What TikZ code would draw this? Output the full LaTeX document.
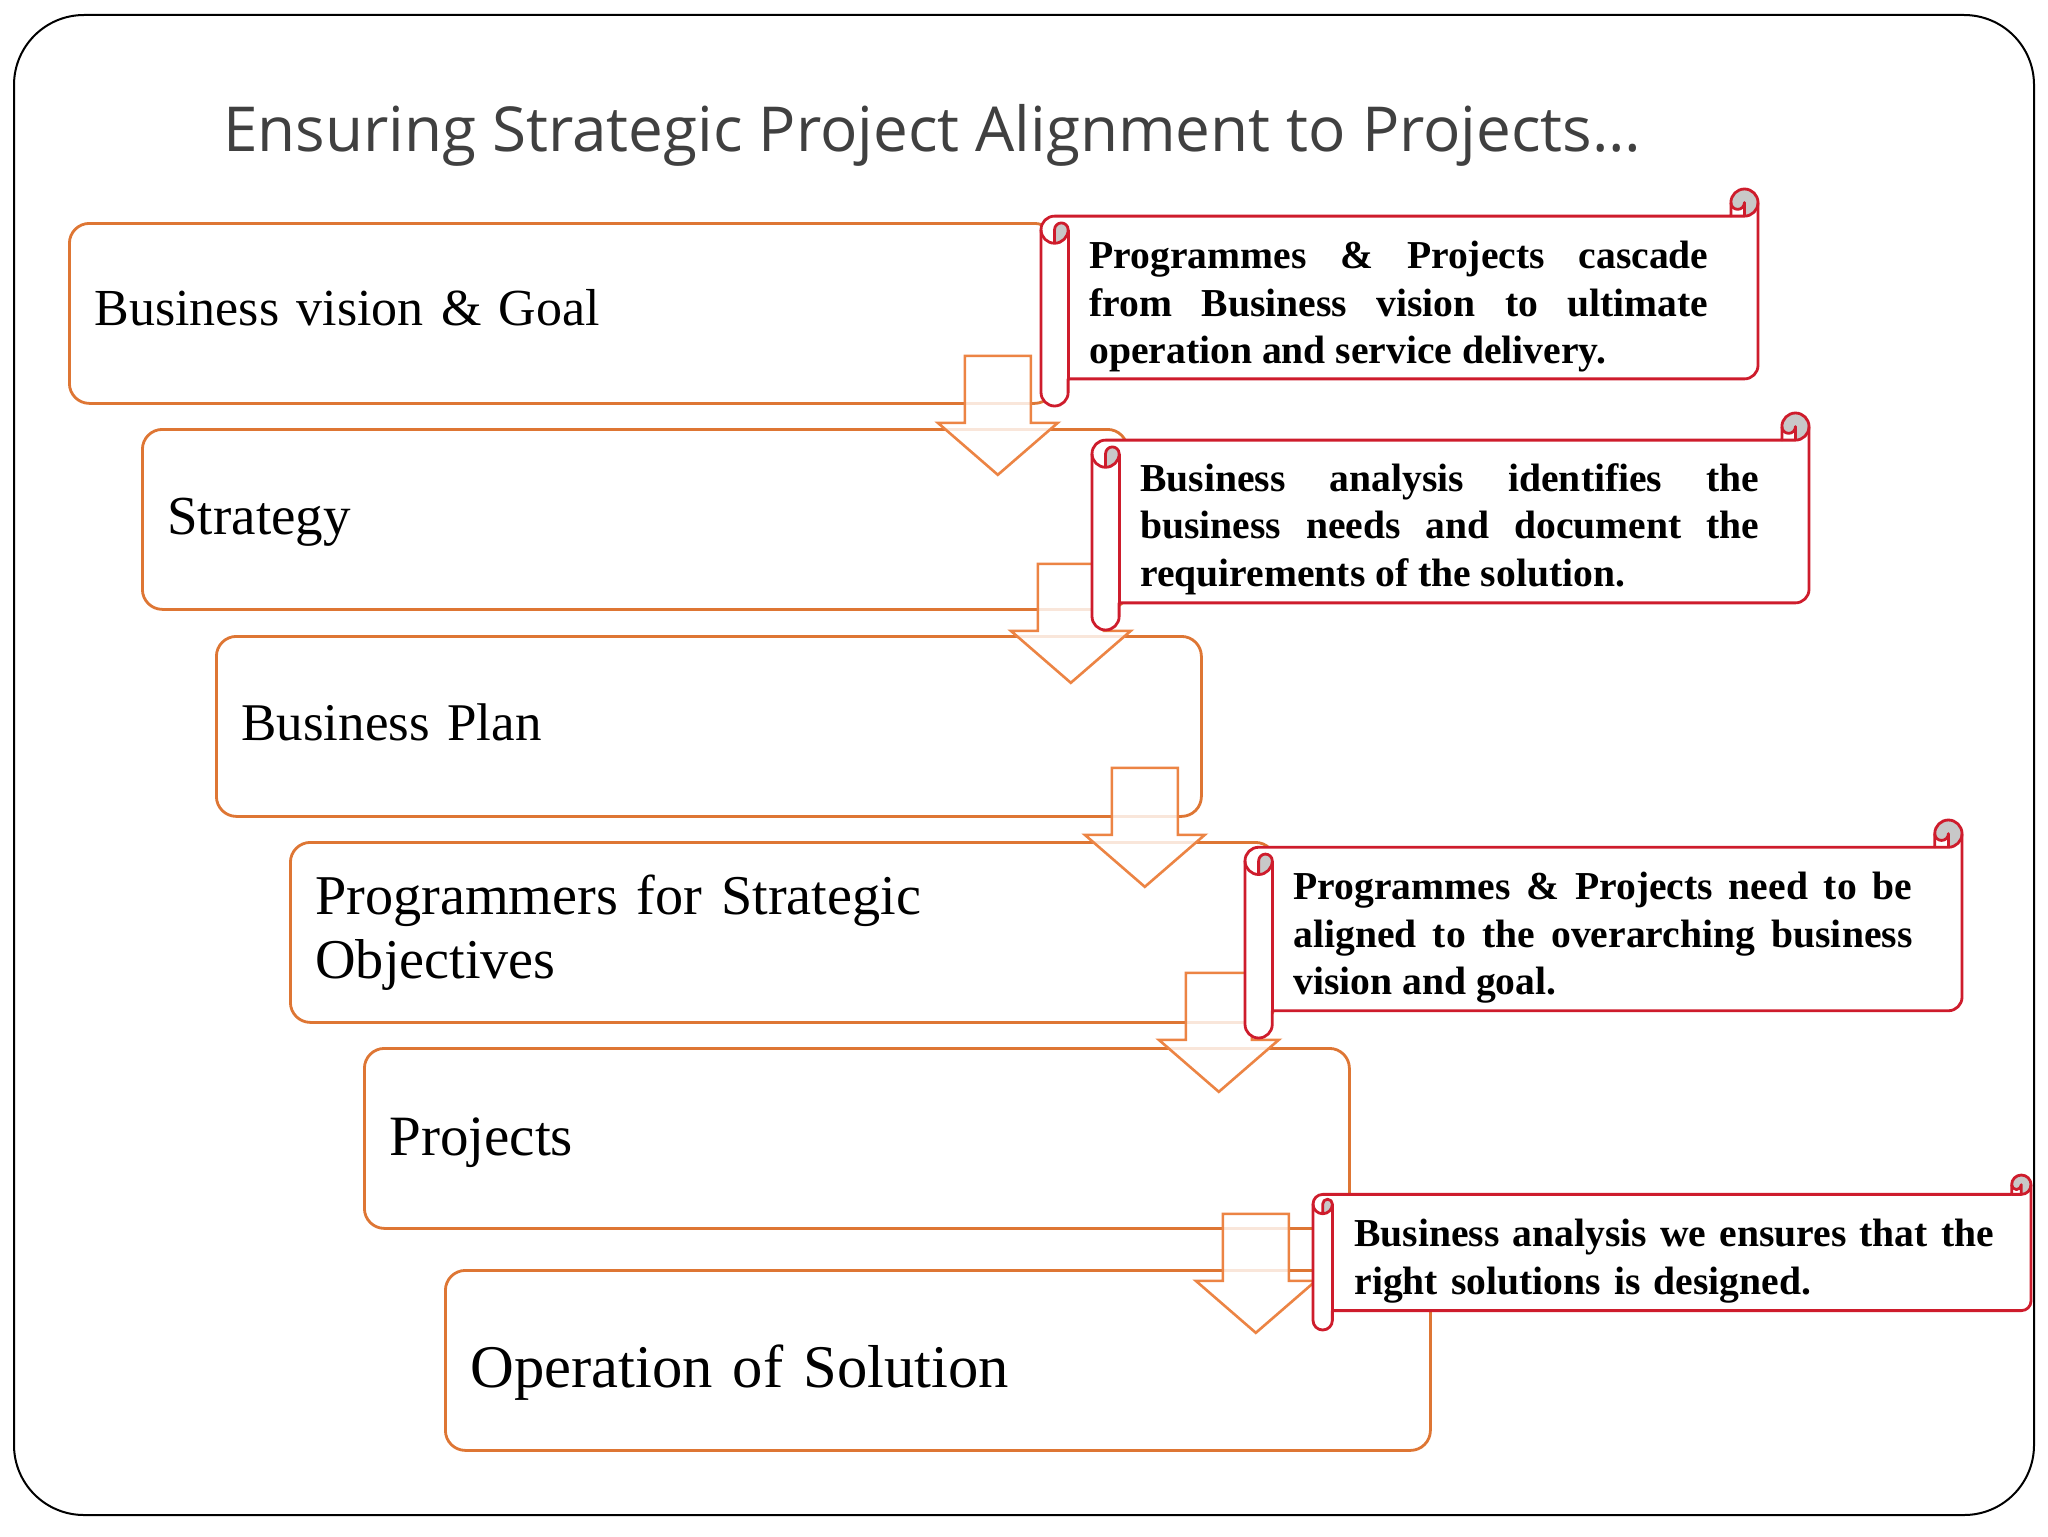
\documentclass[tikz,border=0pt]{standalone}
\usepackage{fontspec}
\setmainfont{Liberation Serif}
\newfontfamily\titlefont{Open Sans}
\definecolor{boxorange}{RGB}{222,118,52}
\definecolor{arroworange}{RGB}{236,132,68}
\definecolor{scrollred}{RGB}{206,28,44}
\definecolor{curlgray}{RGB}{200,200,200}
\definecolor{titlegray}{RGB}{64,64,64}
\newcommand{\scrollfont}{\fontsize{19.8}{23.75}\selectfont\bfseries\tolerance=10000\hbadness=10000\hyphenpenalty=10000}
\newcommand{\shiftedtext}[2]{\raisebox{#1}[\height][\depth]{#2}}
\newcommand{\drawscroll}[4]{%
  \pgfmathsetmacro\scL{#1}%
  \pgfmathsetmacro\scT{#2}%
  \pgfmathsetmacro\scR{#3}%
  \pgfmathsetmacro\scB{#4}%
  \pgfmathsetmacro\scC{0.125*min(\scR-\scL,\scB-\scT)}%
  \pgfmathsetmacro\scH{\scC/2}%
  \pgfmathsetmacro\scQ{\scC/4}%
  \pgfmathsetmacro\xA{\scL+\scH}%
  \pgfmathsetmacro\xB{\scL+\scC}%
  \pgfmathsetmacro\xC{\scR-\scC}%
  \pgfmathsetmacro\xD{\scR-\scH}%
  \pgfmathsetmacro\yA{\scT+\scH}%
  \pgfmathsetmacro\yB{\scT+\scC}%
  \pgfmathsetmacro\yC{\scT+1.5*\scC}%
  \pgfmathsetmacro\yE{\scT+2*\scC}%
  \pgfmathsetmacro\yF{\scB-1.5*\scC}%
  \pgfmathsetmacro\yG{\scB-\scC}%
  \pgfmathsetmacro\yH{\scB-\scH}%
  \fill[white] (\scL,\yC) arc[start angle=180,delta angle=90,radius=\scH] -- (\xC,\yB) -- (\xC,\yA) arc[start angle=180,delta angle=180,radius=\scH] -- (\scR,\yF) arc[start angle=0,delta angle=90,radius=\scH] -- (\xB,\yG) -- (\xB,\yH) arc[start angle=0,delta angle=180,radius=\scH] -- cycle;
  \fill[curlgray] (\xA,\yE) arc[start angle=90,delta angle=-90,radius=\scH] arc[start angle=0,delta angle=-180,radius=\scQ] -- cycle;
  \fill[curlgray] (\xD,\yB) arc[start angle=90,delta angle=-270,radius=\scH] arc[start angle=180,delta angle=-180,radius=\scQ] -- cycle;
  \draw[scrollline] (\scL,\yC) arc[start angle=180,delta angle=90,radius=\scH] -- (\xC,\yB) -- (\xC,\yA) arc[start angle=180,delta angle=180,radius=\scH] -- (\scR,\yF) arc[start angle=0,delta angle=90,radius=\scH] -- (\xB,\yG) -- (\xB,\yH) arc[start angle=0,delta angle=180,radius=\scH] -- cycle;
  \draw[scrollline] (\xC,\yB) -- (\xD,\yB) arc[start angle=90,delta angle=-90,radius=\scH];
  \draw[scrollline] (\xD,\yB) -- (\xD,\yA) arc[start angle=0,delta angle=180,radius=\scQ];
  \draw[scrollline] (\xA,\yE) -- (\xA,\yC) arc[start angle=180,delta angle=180,radius=\scQ] arc[start angle=0,delta angle=180,radius=\scH];
  \draw[scrollline] (\xB,\yC) -- (\xB,\yG);
}
\begin{document}
\begin{tikzpicture}[x=0.5pt,y=-0.5pt,
  box/.style={draw=boxorange, line width=1.4pt, rounded corners=10pt, fill=white, anchor=north west, minimum width=492.5pt, minimum height=90pt, text width=467.5pt, inner xsep=12.5pt, inner ysep=0pt, align=left},
  blockarrow/.style={draw=arroworange, line width=1.3pt, fill=white, fill opacity=0.82, line join=miter},
  scrollline/.style={draw=scrollred, line width=1.4pt, line join=round},
  scrolltext/.style={anchor=north west, inner sep=0pt, align=justify, font=\scrollfont},
]
\useasboundingbox (0,0) rectangle (2048,1536);
\fill[white] (0,0) rectangle (2048,1536);
\draw[line width=1pt, rounded corners=35pt] (14,15) rectangle (2034,1515);
\node[font=\titlefont\fontsize{31}{36}\selectfont, text=titlegray, inner sep=0pt] (title) at (932,135) {Ensuring Strategic Project Alignment to Projects…};

\node[box, font=\fontsize{26}{32}\selectfont] (b1) at (68,222) {\shiftedtext{2.6pt}{Business vision \& Goal}};
\node[box, font=\fontsize{27.5}{32}\selectfont] (b2) at (141,428) {\shiftedtext{-1.3pt}{Strategy}};
\node[box, font=\fontsize{26.5}{32}\selectfont] (b3) at (215,635) {\shiftedtext{2pt}{Business Plan}};
\node[box, font=\fontsize{28.1}{32}\selectfont] (b4) at (289,841) {Programmers for Strategic\\Objectives};
\node[box, font=\fontsize{28.5}{32}\selectfont] (b5) at (363,1047) {\shiftedtext{-2pt}{Projects}};
\node[box, font=\fontsize{30.3}{36}\selectfont] (b6) at (444,1269) {\shiftedtext{-5.9pt}{Operation of Solution}};

\foreach \b/\dx/\dy in {b1/-58/-49, b2/-58/-47, b3/-58/-50, b4/-58/-51, b5/-95/-16}{
  \draw[blockarrow] (\b.south east) ++(\dx,\dy) ++(-33,0) -- ++(66,0) -- ++(0,67) -- ++(27,0) -- ++(-60,52) -- ++(-60,-52) -- ++(27,0) -- cycle;
}

\drawscroll{1041}{189}{1758}{406}
\drawscroll{1092}{413}{1809}{630}
\drawscroll{1245}{820}{1962}{1038}
\drawscroll{1313}{1175}{2031}{1330}

\node[scrolltext, text width=309.5pt] (s1) at (1089,241) {Programmes \& Projects cascade\linebreak from Business vision to ultimate\linebreak operation and service delivery.};
\node[scrolltext, text width=309.5pt] (s2) at (1140,463) {Business analysis identifies the\linebreak business needs and document the\linebreak requirements of the solution.};
\node[scrolltext, text width=309.5pt] (s3) at (1293,872) {Programmes \& Projects need to be\linebreak aligned to the overarching business\linebreak vision and goal.};
\node[scrolltext, text width=325pt, align=left] (s4) at (1354,1219) {Business analysis we ensures that the\\right solutions is designed.};
\end{tikzpicture}
\end{document}
